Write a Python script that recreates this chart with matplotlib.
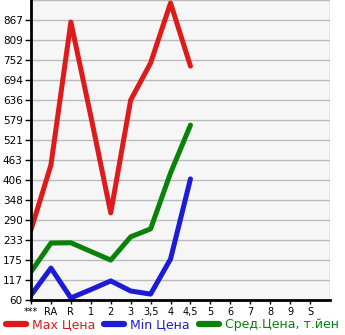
import matplotlib
matplotlib.use('Agg')
import matplotlib.pyplot as plt
import numpy as np

categories = ['***', 'RA', 'R', '1', '2', '3', '3,5', '4', '4,5', '5', '6', '7', '8', '9', 'S']
ytick_values = [60, 117, 175, 233, 290, 348, 406, 463, 521, 579, 636, 694, 752, 809, 867]

max_price = [262, 449, 861, 590, 311, 636, 743, 916, 734]
min_price = [74, 152, 66, 90, 115, 86, 77, 178, 409]
avg_price = [141, 224, 225, 200, 175, 242, 265, 426, 564]

RED = '#dd1b1b'
BLUE = '#1c1cd6'
GREEN = '#0a820a'

fig = plt.figure(figsize=(3.45, 3.35), dpi=100)
ax = fig.add_axes([31 / 345, 1 - 300 / 335, 299 / 345, 300 / 335])
ax.set_facecolor('#f6f6f6')

x = np.arange(len(max_price))
kw = dict(lw=3.6, solid_capstyle='round', solid_joinstyle='round')
ax.plot(x, max_price, color=RED, label='Max Цена', **kw)
ax.plot(x, min_price, color=BLUE, label='Min Цена', **kw)
ax.plot(x, avg_price, color=GREEN, label='Сред.Цена, т.йен', **kw)

ax.set_xlim(0, 15)
ax.set_ylim(60, 60 + 15 * 57.64)
ax.set_xticks(np.arange(len(categories)))
ax.set_xticklabels(categories, fontsize=7)
ax.set_xticks(np.arange(16), minor=True)
ax.set_yticks(ytick_values)
ax.set_yticklabels([str(v) for v in ytick_values], fontsize=7.5)
ax.set_yticks(60 + 57.64 * np.arange(16), minor=True)
ax.grid(True, which='minor', color='#bbbbbb', lw=1)
ax.tick_params(which='minor', length=0)
ax.tick_params(axis='x', which='major', length=3, width=1, pad=2)
ax.tick_params(axis='y', which='major', length=4, width=1, pad=2)
ax.set_axisbelow(True)

for s in ['top', 'right']:
    ax.spines[s].set_visible(False)
ax.spines['left'].set_linewidth(2)
ax.spines['bottom'].set_linewidth(2)

leg = fig.legend(loc='center', bbox_to_anchor=(0.5, 0.03), ncol=3, frameon=False,
                 fontsize=9, handlelength=1.6, handletextpad=0.5, columnspacing=0.7,
                 borderaxespad=0, borderpad=0)
for text, col in zip(leg.get_texts(), [RED, BLUE, GREEN]):
    text.set_color(col)
for line in leg.get_lines():
    line.set_linewidth(4.5)

fig.savefig('out.png', dpi=100)
